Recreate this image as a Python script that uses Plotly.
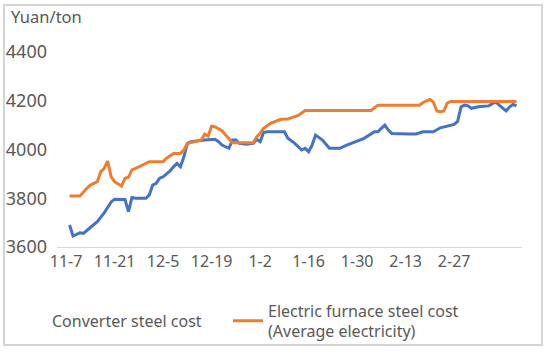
import plotly.graph_objects as go

# Converter steel cost (Yuan/ton)
conv_dates = ["2022-11-08", "2022-11-09", "2022-11-11", "2022-11-12", "2022-11-14", "2022-11-16",
              "2022-11-18", "2022-11-20", "2022-11-21", "2022-11-24", "2022-11-25", "2022-11-26",
              "2022-11-27", "2022-11-30", "2022-12-01", "2022-12-02", "2022-12-03", "2022-12-04",
              "2022-12-05", "2022-12-07", "2022-12-08", "2022-12-09", "2022-12-10", "2022-12-11",
              "2022-12-12", "2022-12-13", "2022-12-17", "2022-12-20", "2022-12-21", "2022-12-22",
              "2022-12-24", "2022-12-25", "2022-12-26", "2022-12-27", "2022-12-29", "2022-12-31",
              "2023-01-01", "2023-01-02", "2023-01-03", "2023-01-04", "2023-01-09", "2023-01-10",
              "2023-01-12", "2023-01-14", "2023-01-15", "2023-01-16", "2023-01-17", "2023-01-18",
              "2023-01-20", "2023-01-22", "2023-01-25", "2023-01-27", "2023-02-01", "2023-02-04",
              "2023-02-05", "2023-02-07", "2023-02-08", "2023-02-09", "2023-02-14", "2023-02-16",
              "2023-02-18", "2023-02-21", "2023-02-23", "2023-02-24", "2023-02-27", "2023-02-28",
              "2023-03-01", "2023-03-02", "2023-03-03", "2023-03-04", "2023-03-06", "2023-03-09",
              "2023-03-11", "2023-03-12", "2023-03-14", "2023-03-15", "2023-03-16", "2023-03-17"]
conv_values = [3690, 3645, 3658, 3656, 3680, 3704,
               3740, 3785, 3796, 3795, 3745, 3803,
               3800, 3800, 3813, 3854, 3861, 3882,
               3888, 3912, 3929, 3943, 3929, 3970,
               4025, 4032, 4039, 4042, 4032, 4018,
               4005, 4039, 4039, 4025, 4022, 4025,
               4042, 4032, 4070, 4073, 4073, 4046,
               4025, 3998, 4005, 3991, 4018, 4059,
               4039, 4005, 4005, 4018, 4046, 4073,
               4073, 4100, 4080, 4066, 4064, 4064,
               4073, 4073, 4089, 4093, 4103, 4115,
               4175, 4182, 4179, 4169, 4175, 4179,
               4196, 4182, 4158, 4175, 4185, 4179]

# Electric furnace steel cost (Average electricity) (Yuan/ton)
eaf_dates = ["2022-11-08", "2022-11-11", "2022-11-13", "2022-11-14", "2022-11-16", "2022-11-17",
             "2022-11-18", "2022-11-19", "2022-11-20", "2022-11-21", "2022-11-23", "2022-11-24",
             "2022-11-25", "2022-11-26", "2022-11-28", "2022-12-01", "2022-12-05", "2022-12-06",
             "2022-12-08", "2022-12-10", "2022-12-11", "2022-12-12", "2022-12-14", "2022-12-16",
             "2022-12-17", "2022-12-18", "2022-12-19", "2022-12-20", "2022-12-22", "2022-12-24",
             "2022-12-25", "2022-12-31", "2023-01-01", "2023-01-02", "2023-01-03", "2023-01-05",
             "2023-01-08", "2023-01-10", "2023-01-11", "2023-01-13", "2023-01-15", "2023-02-03",
             "2023-02-05", "2023-02-17", "2023-02-18", "2023-02-20", "2023-02-21", "2023-02-22",
             "2023-02-23", "2023-02-24", "2023-02-25", "2023-02-26", "2023-03-17"]
eaf_values = [3809, 3809, 3841, 3854, 3868, 3909,
              3923, 3952, 3888, 3868, 3850, 3882,
              3886, 3916, 3929, 3950, 3950, 3964,
              3984, 3984, 3998, 4025, 4032, 4039,
              4063, 4055, 4096, 4093, 4077, 4046,
              4028, 4028, 4052, 4066, 4087, 4107,
              4124, 4125, 4130, 4140, 4160, 4160,
              4182, 4182, 4193, 4205, 4195, 4158,
              4155, 4158, 4190, 4197, 4197]

tick_dates = ["2022-11-07", "2022-11-21", "2022-12-05", "2022-12-19", "2023-01-02",
              "2023-01-16", "2023-01-30", "2023-02-13", "2023-02-27"]
tick_labels = ["11-7", "11-21", "12-5", "12-19", "1-2", "1-16", "1-30", "2-13", "2-27"]
y_ticks = [3600, 3800, 4000, 4200, 4400]

BLUE = "#4472C4"
ORANGE = "#ED7D31"
TXT = "#595959"
FONT = "Noto Sans"

fig = go.Figure()
fig.add_trace(go.Scatter(x=conv_dates, y=conv_values, mode="lines",
                         line=dict(color=BLUE, width=3), showlegend=False,
                         name="Converter steel cost"))
fig.add_trace(go.Scatter(x=eaf_dates, y=eaf_values, mode="lines",
                         line=dict(color=ORANGE, width=3), showlegend=False,
                         name="Electric furnace steel cost"))
# legend entries
fig.add_trace(go.Scatter(x=[None], y=[None], mode="lines",
                         line=dict(color="rgba(0,0,0,0)", width=3),
                         name="Converter steel cost", legend="legend"))
fig.add_trace(go.Scatter(x=[None], y=[None], mode="lines",
                         line=dict(color=ORANGE, width=3),
                         name="Electric furnace steel cost<br>(Average electricity)",
                         legend="legend2"))

W, H = 556, 357
L, R, T, B = 57, 34, 52, 110
pw, ph = W - L - R, H - T - B

def px(x):
    return (x - L) / pw

def py(y):
    return (H - B - y) / ph

legend_common = dict(orientation="h", xref="container", yref="container",
                     xanchor="left", yanchor="middle", y=1 - 321 / H,
                     font=dict(size=16, color=TXT), bgcolor="rgba(0,0,0,0)", itemwidth=30)

fig.update_layout(
    width=W, height=H,
    margin=dict(l=L, r=R, t=T, b=B, autoexpand=False),
    paper_bgcolor="white", plot_bgcolor="white",
    font=dict(family=FONT, color=TXT, size=16),
    xaxis=dict(type="date", range=["2022-11-04 09:00", "2023-03-18 14:00"],
               tickvals=tick_dates, ticktext=tick_labels, showgrid=False,
               showline=True, linecolor="#D9D9D9", linewidth=1, ticks="",
               tickfont=dict(size=16, color=TXT), zeroline=False, automargin=False),
    yaxis=dict(range=[3600, 4400], tickvals=y_ticks, showgrid=False,
               showline=False, ticks="", zeroline=False, automargin=False,
               tickfont=dict(size=18, color=TXT), ticklabelstandoff=9),
    legend=dict(legend_common, x=12 / W),
    legend2=dict(legend_common, x=228 / W),
    annotations=[dict(text="Yuan/ton", xref="paper", yref="paper", x=px(9), y=py(17),
                      xanchor="left", yanchor="middle", showarrow=False,
                      font=dict(size=16.5, color=TXT))],
)

# page reset + light grey frame around the chart (overlay, no pointer events)
post = (
    "document.body.style.margin='0';"
    "var f=document.createElement('div');"
    "f.style.cssText='position:absolute;left:3px;top:4px;width:540px;height:342px;"
    "border:2px solid #D4D4D4;pointer-events:none;box-sizing:border-box;';"
    "document.body.appendChild(f);"
)

fig.write_html("out.html", config={"displayModeBar": False}, post_script=post)
